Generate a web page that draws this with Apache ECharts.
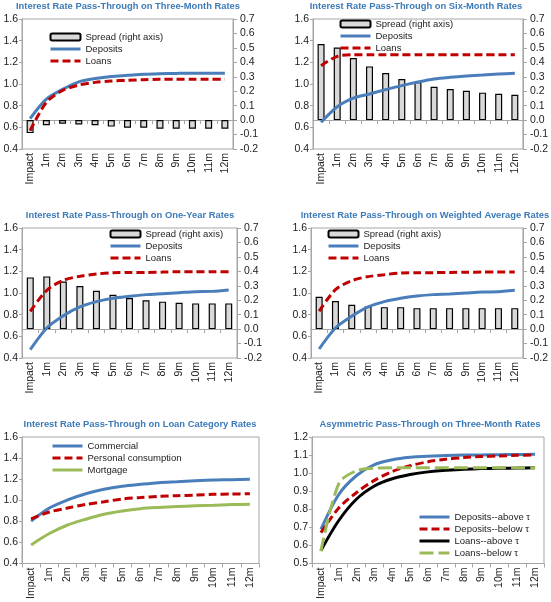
<!DOCTYPE html>
<html><head><meta charset="utf-8">
<script src="https://cdn.jsdelivr.net/npm/echarts@6/dist/echarts.min.js"></script>
<style>html,body{margin:0;padding:0;background:#fff}#c{width:551px;height:602px}</style>
</head><body><div id="c"></div>
<script>
const categories = ['Impact','1m','2m','3m','4m','5m','6m','7m','8m','9m','10m','11m','12m'];

// Panel 1: three-month rates
const threeMonthSpread   = [-0.09,-0.035,-0.025,-0.03,-0.035,-0.045,-0.053,-0.053,-0.06,-0.06,-0.06,-0.06,-0.06];
const threeMonthDeposits = [0.68,0.86,0.95,1.02,1.05,1.07,1.08,1.09,1.095,1.098,1.1,1.1,1.1];
const threeMonthLoans    = [0.57,0.83,0.94,0.99,1.015,1.028,1.034,1.04,1.043,1.043,1.043,1.043,1.043];

// Panel 2: six-month rates
const sixMonthSpread   = [0.527,0.503,0.43,0.372,0.326,0.284,0.263,0.231,0.215,0.203,0.19,0.182,0.175];
const sixMonthDeposits = [0.646,0.79,0.87,0.908,0.948,0.985,1.018,1.046,1.062,1.074,1.083,1.092,1.10];
const sixMonthLoans    = [1.169,1.255,1.27,1.27,1.27,1.27,1.27,1.27,1.27,1.27,1.27,1.27,1.27];

// Panel 3: one-year rates
const oneYearSpread   = [0.358,0.365,0.33,0.298,0.266,0.238,0.215,0.2,0.19,0.182,0.178,0.178,0.178];
const oneYearDeposits = [0.477,0.677,0.79,0.871,0.92,0.951,0.969,0.985,0.994,1.003,1.012,1.015,1.028];
const oneYearLoans    = [0.831,1.025,1.117,1.154,1.175,1.188,1.19,1.19,1.193,1.197,1.197,1.197,1.197];

// Panel 4: weighted average rates
const weightedSpread   = [0.224,0.194,0.169,0.157,0.152,0.152,0.145,0.145,0.145,0.145,0.145,0.145,0.145];
const weightedDeposits = [0.483,0.677,0.785,0.871,0.92,0.951,0.972,0.985,0.991,1.0,1.009,1.012,1.025];
const weightedLoans    = [0.831,1.031,1.114,1.151,1.169,1.185,1.188,1.188,1.19,1.192,1.193,1.194,1.194];

// Panel 5: loan category rates
const commercial = [0.802,0.926,1.003,1.062,1.105,1.133,1.151,1.167,1.176,1.185,1.192,1.195,1.2];
const personal   = [0.824,0.889,0.926,0.96,0.985,1.012,1.025,1.037,1.043,1.049,1.056,1.059,1.062];
const mortgage   = [0.576,0.684,0.765,0.82,0.867,0.898,0.92,0.932,0.941,0.947,0.953,0.96,0.963];

// Panel 6: asymmetric pass-through
const depositsAbove = [0.689,0.882,0.987,1.047,1.074,1.088,1.094,1.097,1.10,1.101,1.102,1.103,1.104];
const depositsBelow = [0.671,0.807,0.893,0.96,1.009,1.041,1.063,1.077,1.086,1.092,1.095,1.099,1.10];
const loansAbove    = [0.572,0.738,0.857,0.929,0.969,0.992,1.007,1.016,1.021,1.025,1.027,1.028,1.03];
const loansBelow    = [0.568,0.942,1.014,1.027,1.03,1.03,1.03,1.03,1.03,1.03,1.03,1.03,1.03];

const leftTicks  = {min:0.4, max:1.6, interval:0.2};
const rightTicks = {min:-0.2, max:0.7, interval:0.1};
const asymTicks  = {min:0.5, max:1.2, interval:0.1};

const FONT = "'Liberation Sans', Arial, sans-serif";
const TITLE_FONT = "'Liberation Sans', Arial, sans-serif";
const BLUE = '#4A7EBB', RED = '#C00000', GREEN = '#9BBB59', BLACK = '#000000', FRAME = '#A6A6A6', TITLEC = '#3C7AB8', TXT = '#222';

const panels = [
  {title:'Interest Rate Pass-Through on Three-Month Rates', tx:128, ty:2,
   grid:{left:22, top:19, width:211, height:130}, y:leftTicks, right:true,
   legend:{left:49, top:31},
   series:[
     {name:'Spread (right axis)', kind:'bar', data:threeMonthSpread},
     {name:'Deposits', kind:'line', color:BLUE, data:threeMonthDeposits},
     {name:'Loans', kind:'line', color:RED, dash:[8,4], data:threeMonthLoans}]},
  {title:'Interest Rate Pass-Through on Six-Month Rates', tx:416, ty:2,
   grid:{left:313, top:19, width:210, height:130}, y:leftTicks, right:true,
   legend:{left:339, top:18},
   series:[
     {name:'Spread (right axis)', kind:'bar', data:sixMonthSpread},
     {name:'Deposits', kind:'line', color:BLUE, data:sixMonthDeposits},
     {name:'Loans', kind:'line', color:RED, dash:[8,4], data:sixMonthLoans}]},
  {title:'Interest Rate Pass-Through on One-Year Rates', tx:130, ty:211,
   grid:{left:22, top:228, width:215, height:130}, y:leftTicks, right:true,
   legend:{left:109, top:228},
   series:[
     {name:'Spread (right axis)', kind:'bar', data:oneYearSpread},
     {name:'Deposits', kind:'line', color:BLUE, data:oneYearDeposits},
     {name:'Loans', kind:'line', color:RED, dash:[8,4], data:oneYearLoans}]},
  {title:'Interest Rate Pass-Through on Weighted Average Rates', tx:425, ty:211,
   grid:{left:311, top:228, width:212, height:130}, y:leftTicks, right:true,
   legend:{left:327, top:228},
   series:[
     {name:'Spread (right axis)', kind:'bar', data:weightedSpread},
     {name:'Deposits', kind:'line', color:BLUE, data:weightedDeposits},
     {name:'Loans', kind:'line', color:RED, dash:[8,4], data:weightedLoans}]},
  {title:'Interest Rate Pass-Through on Loan Category Rates', tx:140, ty:420,
   grid:{left:22, top:437, width:237, height:130}, y:leftTicks, right:false,
   legend:{left:51, top:440},
   series:[
     {name:'Commercial', kind:'line', color:BLUE, data:commercial},
     {name:'Personal consumption', kind:'line', color:RED, dash:[8,4], data:personal},
     {name:'Mortgage', kind:'line', color:GREEN, data:mortgage}]},
  {title:'Asymmetric Pass-Through on Three-Month Rates', tx:430, ty:420,
   grid:{left:312, top:437, width:232, height:130}, y:asymTicks, right:false,
   legend:{left:418, top:511},
   series:[
     {name:'Deposits--above τ', kind:'line', color:BLUE, data:depositsAbove},
     {name:'Deposits--below τ', kind:'line', color:RED, dash:[8,4], data:depositsBelow},
     {name:'Loans--above τ', kind:'line', color:BLACK, data:loansAbove},
     {name:'Loans--below τ', kind:'line', color:GREEN, dash:[14,5], data:loansBelow}]}
];

function fmt(v){ if (Math.abs(v) < 1e-9) return '0.0'; return v.toFixed(1); }

const option = {backgroundColor:'#fff', animation:false, title:[], grid:[], xAxis:[], yAxis:[], legend:[], series:[]};

panels.forEach((p, i) => {
  option.title.push({text:p.title, left:p.tx, top:p.ty, textAlign:'center', padding:0,
    textStyle:{fontFamily:TITLE_FONT, fontWeight:'bold', fontSize:9.4, color:TITLEC}});
  option.grid.push(Object.assign({show:true, borderColor:FRAME, borderWidth:1, backgroundColor:'transparent'}, p.grid));
  option.xAxis.push({type:'category', gridIndex:i, data:categories, boundaryGap:true,
    axisLine:{show:true, lineStyle:{color:FRAME}},
    axisTick:{show:true, length:4, lineStyle:{color:FRAME}},
    axisLabel:{rotate:90, interval:0, fontSize:10.5, color:TXT, fontFamily:FONT, margin:4}});
  const leftIdx = option.yAxis.length;
  option.yAxis.push({type:'value', gridIndex:i, position:'left', min:p.y.min, max:p.y.max, interval:p.y.interval,
    axisLine:{show:true, lineStyle:{color:FRAME}},
    axisTick:{show:true, length:3, lineStyle:{color:FRAME}},
    splitLine:{show:false},
    axisLabel:{formatter:fmt, fontSize:10.5, color:TXT, fontFamily:FONT, margin:4}});
  let rightIdx = leftIdx;
  if (p.right) {
    rightIdx = option.yAxis.length;
    option.yAxis.push({type:'value', gridIndex:i, position:'right', min:rightTicks.min, max:rightTicks.max, interval:rightTicks.interval,
      axisLine:{show:true, lineStyle:{color:FRAME}},
      axisTick:{show:true, length:4, lineStyle:{color:FRAME}},
      splitLine:{show:false},
      axisLabel:{formatter:fmt, fontSize:10.5, color:TXT, fontFamily:FONT, margin:7}});
  }
  const legendData = [];
  p.series.forEach(s => {
    if (s.kind === 'bar') {
      legendData.push({name:s.name});
      option.series.push({name:s.name, type:'bar', xAxisIndex:i, yAxisIndex:rightIdx, data:s.data,
        barWidth:7, itemStyle:{color:'#D9D9D9', borderColor:'#000', borderWidth:1.2}, z:1});
    } else {
      legendData.push({name:s.name, itemStyle:{opacity:0},
        lineStyle:{width:3, color:s.color, type:s.dash ? s.dash : 'solid'}});
      option.series.push({name:s.name, type:'line', xAxisIndex:i, yAxisIndex:leftIdx, data:s.data,
        smooth:0.3, symbol:'none', color:s.color,
        lineStyle:{color:s.color, width:3, type:s.dash ? s.dash : 'solid'}, z:3});
    }
  });
  option.legend.push({orient:'vertical', left:p.legend.left, top:p.legend.top, padding:0, itemGap:0,
    itemWidth:30, itemHeight:7, data:legendData, selectedMode:false,
    textStyle:{fontSize:9.5, color:TXT, fontFamily:FONT, lineHeight:12}});
});

const chart = echarts.init(document.getElementById('c'));
chart.setOption(option);
</script>
</body></html>
